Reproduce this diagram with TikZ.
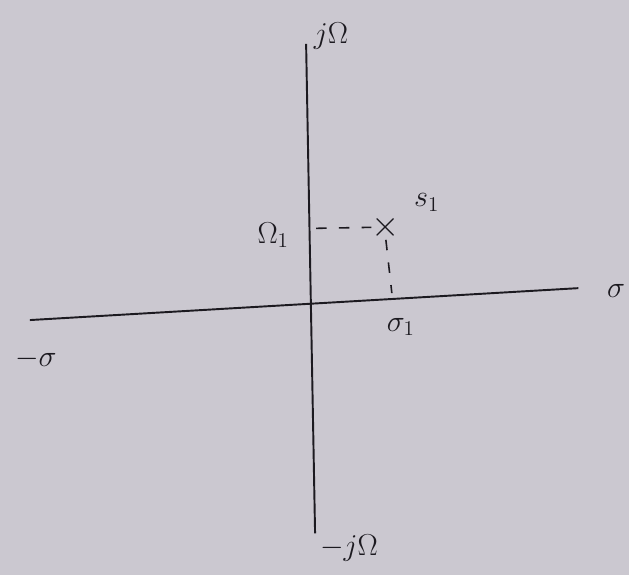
\documentclass[tikz,border=0pt]{standalone}
\usepackage{amsmath}
\usepackage{amssymb}
\usepackage{xcolor}
\usetikzlibrary{positioning}
\definecolor{paper}{RGB}{203,200,208}
\definecolor{ink}{RGB}{28,26,32}

\begin{document}
\begin{tikzpicture}[x=0.02cm, y=-0.02cm]
    \tikzset{axis/.style={ink, line width=1.1pt},
             guide/.style={ink, line width=0.9pt, dash pattern=on 6pt off 7pt},
             lbl/.style={text=ink, font=\LARGE}}
    % Paper
    \fill[paper] (0,0) rectangle (631,577);

    % Axes
    \coordinate (hl) at (30,321); \coordinate (hr) at (580,289);
    \coordinate (vt) at (307,44); \coordinate (vb) at (316,535);
    \draw[axis] (hl) -- (hr);
    \draw[axis] (vt) -- (vb);

    % Axis labels
    \node[lbl] (jw) at (332,36) {$j\Omega$};
    \node[lbl] (mjw) at (350,550) {$-j\Omega$};
    \node[lbl] (sig) at (618,292) {$\sigma$};
    \node[lbl] (msig) at (36,360) {$-\sigma$};

    % Pole s1
    \node[text=ink, font=\huge, inner sep=0pt] (pole) at (387,228) {$\times$};
    \node[lbl] (s1) at (428,203) {$s_1$};
    \node[lbl] (w1) at (274,236) {$\Omega_1$};
    \node[lbl] (sig1) at (402,328) {$\sigma_1$};
    \coordinate (wax) at (317,229); \coordinate (sax) at (393,294);
    \draw[guide] (wax) -- (pole.west);
    \draw[guide] (pole.south) -- (sax);
\end{tikzpicture}
\end{document}
